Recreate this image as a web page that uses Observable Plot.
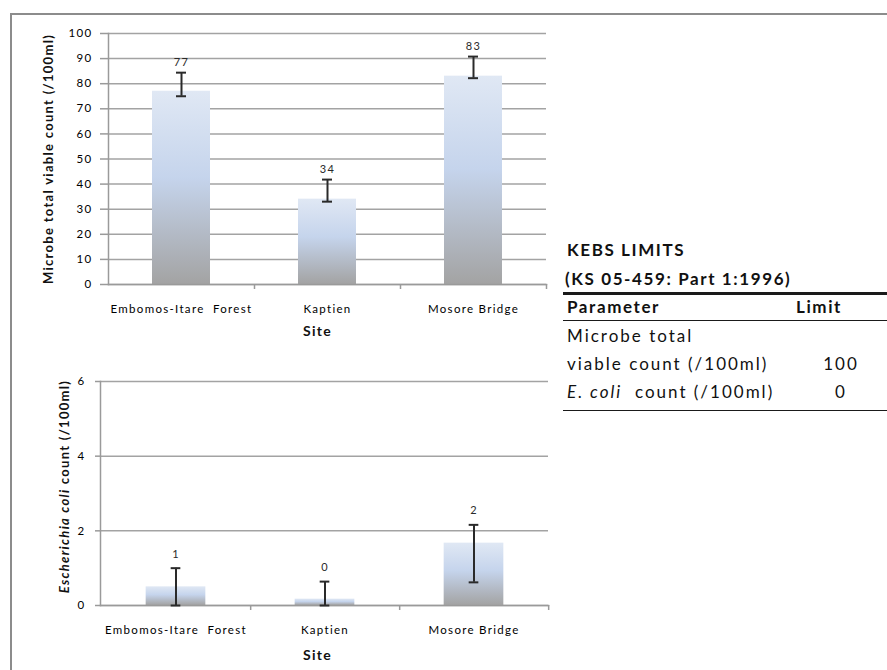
<!DOCTYPE html>
<html>
<head>
<meta charset="utf-8">
<script src="https://cdn.jsdelivr.net/npm/d3@7"></script>
<script src="https://cdn.jsdelivr.net/npm/@observablehq/plot@0.6"></script>
<style>
  body { margin: 0; background: #fff; width: 887px; height: 670px; overflow: hidden; position: relative; font-family: Lato, sans-serif; }
  #frame { position: absolute; left: 10px; top: 13px; width: 900px; height: 700px; border-left: 2px solid #8c8c8c; border-top: 2px solid #8c8c8c; }
  #top { position: absolute; left: 0; top: 0; }
  #bottom { position: absolute; left: 0; top: 360px; }
  .kebs-text { position: absolute; height: 29px; line-height: 29px; font-size: 17px; letter-spacing: 2px; color: #111; white-space: nowrap; }
  .kebs-bold { font-weight: bold; letter-spacing: 1.6px; }
  .kebs-rule { position: absolute; left: 563px; width: 324px; background: #1a1a1a; }
</style>
</head>
<body>
<div id="frame"></div>
<div id="top"></div>
<div id="bottom"></div>
<div id="kebs"></div>
<script>
// Sampling sites along the river
const sites = ["Embomos-Itare  Forest", "Kaptien", "Mosore Bridge"];

// Microbe total viable count (/100ml): mean and error bar ends
const tvcMean = [77, 34, 83];
const tvcLow = [75, 33, 82.2];
const tvcHigh = [84.4, 41.8, 90.8];
const tvcTicks = [0, 10, 20, 30, 40, 50, 60, 70, 80, 90, 100];

// Escherichia coli count (/100ml): mean and error bar ends
const ecoliMean = [0.5, 0.17, 1.67];
const ecoliLow = [0, 0, 0.62];
const ecoliHigh = [1.0, 0.64, 2.16];
const ecoliTicks = [0, 2, 4, 6];

// KEBS drinking-water limits
const kebsTitle = ["KEBS LIMITS", "(KS 05-459: Part 1:1996)"];
const kebsHeader = ["Parameter", "Limit"];
const kebsParams = [["Microbe total", "viable count (/100ml)"], ["E. coli count (/100ml)"]];
const kebsLimits = [100, 0];

const gridColor = "#a3a3a3";
const axisColor = "#9a9a9a";

function gradientDefs(id) {
  return () => {
    const defs = d3.create("svg:defs");
    const g = defs.append("linearGradient").attr("id", id)
      .attr("x1", 0).attr("y1", 0).attr("x2", 0).attr("y2", 1);
    [[0, "#e0e8f4"], [0.45, "#c5d4ec"], [1, "#a3a3a3"]].forEach(([o, c]) =>
      g.append("stop").attr("offset", o).attr("stop-color", c));
    return defs.node();
  };
}

function siteChart(cfg) {
  const rows = sites.map((site, i) => ({site, mean: cfg.mean[i], low: cfg.low[i], high: cfg.high[i]}));
  const m = cfg.margin;
  const band = (cfg.width - m.left - m.right) / sites.length;
  const barInset = (band - cfg.barWidth) / 2;
  const capInset = (band - 10) / 2;
  const svg = Plot.plot({
    width: cfg.width,
    height: cfg.height,
    marginTop: m.top, marginRight: m.right, marginBottom: m.bottom, marginLeft: m.left,
    style: {fontFamily: "Lato, sans-serif", letterSpacing: "1.3px", whiteSpace: "pre", color: "#000", background: "transparent"},
    x: {domain: sites, padding: 0},
    y: {domain: [0, cfg.yMax]},
    marks: [
      gradientDefs(cfg.gradId),
      Plot.gridY({ticks: cfg.ticks, stroke: gridColor, strokeOpacity: 1, strokeWidth: 1.5}),
      Plot.axisY({ticks: cfg.ticks, tickFormat: d => String(d), tickSize: cfg.tickSize, tickPadding: cfg.tickPadding, stroke: axisColor, strokeWidth: 1.5, label: null, fontSize: 11.5}),
      Plot.barY(rows, {x: "site", y: "mean", fill: `url(#${cfg.gradId})`, insetLeft: barInset, insetRight: barInset}),
      Plot.frame({anchor: "left", stroke: axisColor, strokeWidth: 1.5}),
      Plot.frame({anchor: "bottom", stroke: axisColor, strokeWidth: 1.5}),
      Plot.axisX({tickSize: 0, tickPadding: 20, label: null, fontSize: 11.5}),
      Plot.axisX({tickSize: 5, dx: band / 2, tickFormat: () => "", label: null, stroke: axisColor, strokeWidth: 1.5}),
      Plot.ruleX(rows, {x: "site", y1: "low", y2: "high", stroke: "#2a2a2a", strokeWidth: 2}),
      Plot.tickY(rows, {x: "site", y: "high", insetLeft: capInset, insetRight: capInset, stroke: "#2a2a2a", strokeWidth: 2}),
      Plot.tickY(rows, {x: "site", y: "low", insetLeft: capInset, insetRight: capInset, stroke: "#2a2a2a", strokeWidth: 2}),
      Plot.text(rows, {x: "site", y: "high", text: d => String(Math.round(d.mean)), dy: cfg.labelDy, fontSize: 11, fill: "#2a2a2a"}),
      Plot.text(["Site"], {frameAnchor: "bottom", text: d => d, dy: cfg.siteDy, dx: cfg.siteDx, fontWeight: "bold", fontSize: 14, fill: "#111"}),
      Plot.text([cfg.yTitle], {frameAnchor: "left", textAnchor: "middle", text: d => d, rotate: -90, dx: cfg.titleDx, dy: cfg.titleDy, fontWeight: "bold", fontSize: 13, fill: "#111"})
    ]
  });
  if (cfg.italicPart) {
    d3.select(svg).selectAll("text").filter(function () { return this.textContent === cfg.yTitle; })
      .each(function () {
        const t = d3.select(this);
        t.text(null);
        t.append("tspan").attr("font-style", "italic").text(cfg.italicPart);
        t.append("tspan").text(cfg.yTitle.slice(cfg.italicPart.length));
      });
  }
  return svg;
}

document.getElementById("top").append(siteChart({
  gradId: "tvcGrad",
  mean: tvcMean, low: tvcLow, high: tvcHigh, ticks: tvcTicks, yMax: 100,
  width: 560, height: 350,
  margin: {top: 33, right: 14, bottom: 66, left: 108},
  barWidth: 58, tickSize: 8, tickPadding: 8,
  labelDy: -10, siteDy: 51, siteDx: -10,
  yTitle: "Microbe total viable count (/100ml)", titleDx: -60, titleDy: 0
}));

document.getElementById("bottom").append(siteChart({
  gradId: "ecoliGrad",
  mean: ecoliMean, low: ecoliLow, high: ecoliHigh, ticks: ecoliTicks, yMax: 6,
  width: 560, height: 310,
  margin: {top: 21, right: 12, bottom: 65, left: 100},
  barWidth: 60, tickSize: 5, tickPadding: 10,
  labelDy: -14, siteDy: 54, siteDx: -7,
  yTitle: "Escherichia coli count (/100ml)", italicPart: "Escherichia coli", titleDx: -36, titleDy: -7
}));

// KEBS limits table
const kebs = document.getElementById("kebs");
function addText(txt, left, baseline, opts = {}) {
  const el = document.createElement("div");
  el.className = "kebs-text" + (opts.bold ? " kebs-bold" : "");
  el.style.left = left + "px";
  el.style.top = (baseline - 21) + "px";
  if (opts.center) { el.style.width = "60px"; el.style.marginLeft = "-30px"; el.style.textAlign = "center"; }
  if (opts.html) el.innerHTML = txt; else el.textContent = txt;
  kebs.append(el);
}
function addRule(top, h) {
  const el = document.createElement("div");
  el.className = "kebs-rule";
  el.style.top = top + "px";
  el.style.height = h + "px";
  kebs.append(el);
}
addText(kebsTitle[0], 567, 256, {bold: true});
addText(kebsTitle[1], 565, 285, {bold: true});
addRule(292, 2.5);
addText(kebsHeader[0], 567, 313, {bold: true});
addText(kebsHeader[1], 819, 313, {bold: true, center: true});
addRule(319.5, 1.5);
let baseline = 342;
kebsParams.forEach((lines, i) => {
  lines.forEach((line, j) => {
    const html = line.replace(/^E\. coli/, "<i>E. coli</i>&nbsp;");
    addText(html, 567, baseline, {html: true});
    if (j === lines.length - 1) addText(String(kebsLimits[i]), 841, baseline, {center: true});
    baseline += 28;
  });
});
addRule(409.5, 1.5);
</script>
</body>
</html>
